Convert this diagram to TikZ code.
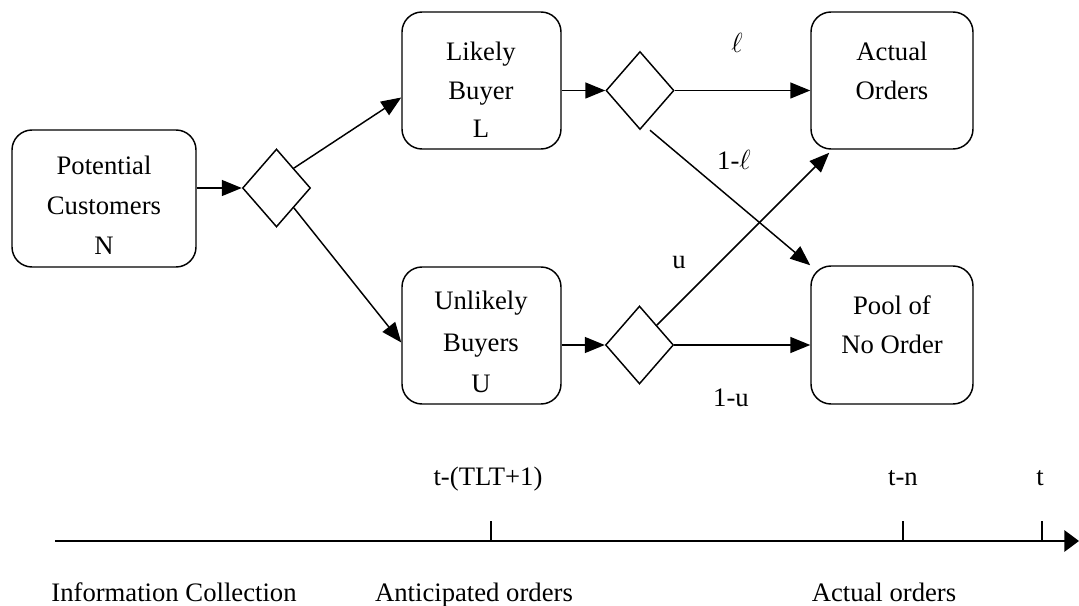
\documentclass[tikz,border=0pt]{standalone}
\usepackage{fontspec}
\setmainfont{Liberation Serif}
\usetikzlibrary{shapes.geometric,arrows.meta,calc}

\begin{document}
\begin{tikzpicture}[x=0.75pt,y=-0.75pt,
  box/.style={draw, rounded corners=15pt, line width=1.1pt, inner sep=0pt},
  dia/.style={draw, diamond, line width=1.1pt, inner sep=0pt,
              minimum width=51pt, minimum height=58.5pt},
  txt/.style={align=center, inner sep=0pt, font=\fontsize{20}{29}\selectfont},
  lbl/.style={inner sep=0pt, anchor=base, font=\fontsize{20}{24}\selectfont},
  flow/.style={line width=1.1pt, -{Triangle[length=15pt,width=12pt]}},
  tick/.style={line width=0.9pt},
  axis/.style={line width=1.5pt, -{Triangle[length=11pt,width=16pt]}}]

  % canvas
  \useasboundingbox (0,0) rectangle (1079,606);

  % stock boxes
  \node[box, minimum width=138pt,   minimum height=102.75pt] (pc) at (104,198.5) {};
  \node[box, minimum width=119.25pt, minimum height=102.75pt] (lb) at (481.5,80.5) {};
  \node[box, minimum width=119.25pt, minimum height=102.75pt] (ub) at (481.5,335.5) {};
  \node[box, minimum width=121.5pt,  minimum height=102.75pt] (ao) at (892,80.5) {};
  \node[box, minimum width=121.5pt,  minimum height=103.5pt]  (po) at (892,335) {};

  % box captions
  \node[txt, font=\fontsize{20}{30}\selectfont] (pct) at (104,205) {Potential\\Customers\\N};
  \node[txt] (lbt) at (481,90) {Likely\\Buyer\\L};
  \node[txt, font=\fontsize{20}{31}\selectfont] (ubt) at (481,342) {Unlikely\\Buyers\\U};
  \node[txt] (aot) at (892,71) {Actual\\Orders};
  \node[txt] (pot) at (892,325) {Pool of\\No Order};

  % decision points
  \node[dia] (d1) at (276.5,188) {};
  \node[dia] (d2) at (640,90.5) {};
  \node[dia] (d3) at (639.5,345) {};

  % flows
  \draw[flow] (pc.east |- d1.west) -- (d1.west);
  \draw[flow] (d1.north east) -- ($(lb.west)+(0,17)$);
  \draw[flow] (d1.south east) -- ($(ub.west)+(0,7)$);
  \draw[flow] (lb.east |- d2.west) -- (d2.west);
  \draw[flow] (ub.east |- d3.west) -- (d3.west);
  \draw[flow] (d2.east) -- (ao.west |- d2.east);
  \draw[flow] ($(d2.south)+(10,0)$) -- (po.north west);
  \draw[flow] (d3.north east) -- ($(ao.south west)+(19,3)$);
  \draw[flow] (d3.east) -- (po.west |- d3.east);

  % flow fractions
  \node[lbl] (ll)  at (737,53)  {$\ell$};
  \node[lbl] (l1)  at (734,170) {1-$\ell$};
  \node[lbl] (uu)  at (679,268) {u};
  \node[lbl] (u1)  at (731,406) {1-u};

  % time axis
  \coordinate (a0) at (55,541);
  \coordinate (a1) at (1079,541);
  \draw[axis] (a0) -- (a1);
  \coordinate (k1) at (491,541);
  \coordinate (k2) at (903,541);
  \coordinate (k3) at (1042,541);
  \draw[tick] (k1) -- ++(0,-20);
  \draw[tick] (k2) -- ++(0,-20);
  \draw[tick] (k3) -- ++(0,-20);

  \node[lbl] (m1) at (488,485)  {t-(TLT+1)};
  \node[lbl] (m2) at (903,485)  {t-n};
  \node[lbl] (m3) at (1040,485) {t};

  \node[lbl] (p1) at (174,601) {Information Collection};
  \node[lbl] (p2) at (474,601) {Anticipated orders};
  \node[lbl] (p3) at (884,601) {Actual orders};
\end{tikzpicture}
\end{document}
